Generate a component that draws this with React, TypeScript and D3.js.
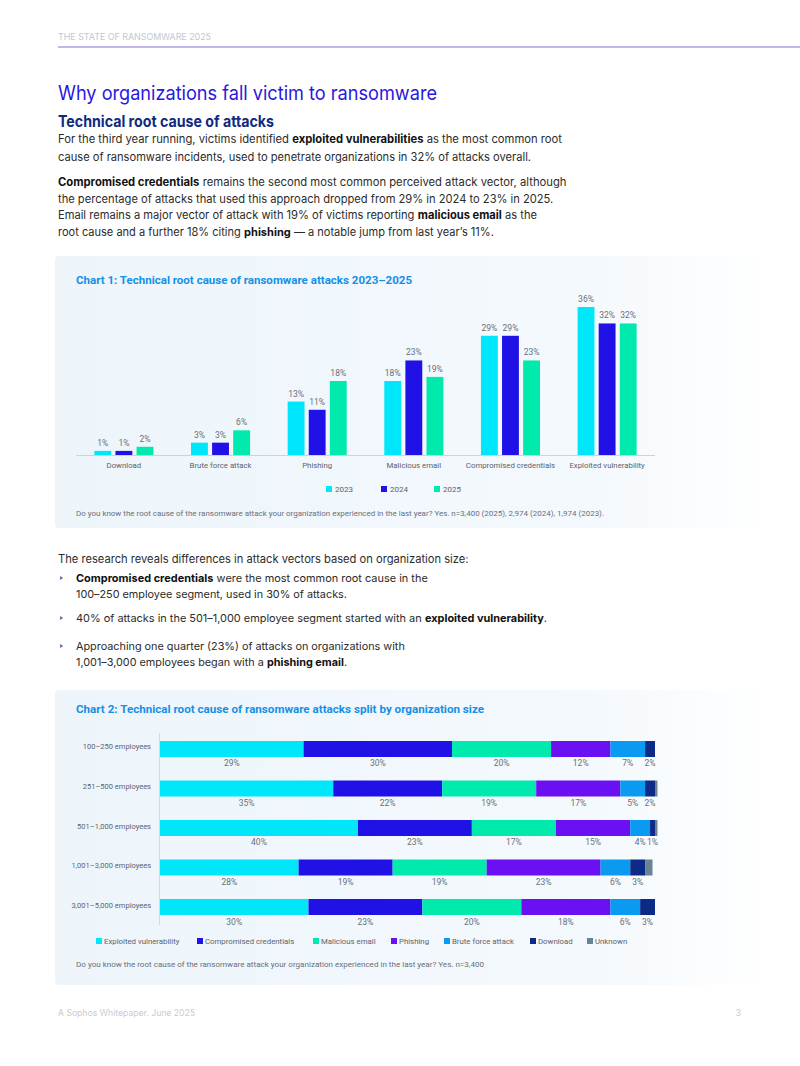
import React from "react";
import * as d3 from "d3";

// ---------- Chart 1 data ----------
const causes1 = ["Download", "Brute force attack", "Phishing", "Malicious email", "Compromised credentials", "Exploited vulnerability"];
const years = ["2023", "2024", "2025"];
const values2023 = [1, 3, 13, 18, 29, 36];
const values2024 = [1, 3, 11, 23, 29, 32];
const values2025 = [2, 6, 18, 19, 23, 32];

// ---------- Chart 2 data ----------
const orgSizes = ["100–250 employees", "251–500 employees", "501–1,000 employees", "1,001–3,000 employees", "3,001–5,000 employees"];
const causes2 = ["Exploited vulnerability", "Compromised credentials", "Malicious email", "Phishing", "Brute force attack", "Download", "Unknown"];
const exploitedVuln = [29, 35, 40, 28, 30];
const compromisedCreds = [30, 22, 23, 19, 23];
const maliciousEmail = [20, 19, 17, 19, 20];
const phishing = [12, 17, 15, 23, 18];
const bruteForce = [7, 5, 4, 6, 6];
const download = [2, 2, 1, 3, 3];
const unknown = [0, 0.5, 0.5, 1.5, 0];

const yearColors = ["#00e6fa", "#2012e6", "#00eaae"];
const causeColors = ["#00e6fa", "#2012e6", "#00eaae", "#6a10f2", "#0a9af2", "#0b2b86", "#6b8494"];

type Seg = [string, boolean];

const BODY_FONT = "Inter, 'Noto Sans', sans-serif";
const CHART_FONT = "Roboto, 'Noto Sans', sans-serif";

let measureCtx: CanvasRenderingContext2D | null = null;
function measure(text: string, bold: boolean, size: number): number {
  if (typeof document === "undefined") return text.length * size * 0.5;
  if (!measureCtx) measureCtx = document.createElement("canvas").getContext("2d");
  if (!measureCtx) return text.length * size * 0.5;
  measureCtx.font = `${bold ? 700 : 400} ${size}px Inter, "Noto Sans", sans-serif`;
  return measureCtx.measureText(text).width;
}

function RichLine({ x, y, segs, width, size = 12.3 }: { x: number; y: number; segs: Seg[]; width: number; size?: number }) {
  const widths = segs.map((s) => measure(s[0], s[1], size));
  const total = widths.reduce((a, b) => a + b, 0);
  const k = total > 0 ? width / total : 1;
  const fs = size * k;
  let cx = x;
  return (
    <g>
      {segs.map((s, i) => {
        const tx = cx;
        cx += widths[i] * k;
        return (
          <text key={i} x={tx} y={y} fontFamily={BODY_FONT} fontSize={fs} fontWeight={s[1] ? 700 : 400} fill={s[1] ? "#111" : "#2b2b2b"} style={{ whiteSpace: "pre" }}>
            {s[0]}
          </text>
        );
      })}
    </g>
  );
}

function Bullet({ x, y }: { x: number; y: number }) {
  return <path d={`M${x},${y - 6} L${x + 3.2},${y - 4} L${x},${y - 2} Z`} fill="#6c6ca8" />;
}

export default function App() {
  // Chart 1 scales
  const x0 = d3.scaleBand().domain(causes1).range([76, 655]).paddingInner(0.389).paddingOuter(0.19);
  const x1 = d3.scaleBand().domain(years).range([0, x0.bandwidth()]).paddingInner(0.2);
  const y1 = d3.scaleLinear().domain([0, 36]).range([455, 307]);
  const series1 = [values2023, values2024, values2025];

  // Chart 2 scales
  const series2 = [exploitedVuln, compromisedCreds, maliciousEmail, phishing, bruteForce, download, unknown];
  const rows = orgSizes.map((s, i) => {
    const r: any = { size: s };
    causes2.forEach((c, j) => (r[c] = series2[j][i]));
    return r;
  });
  const stack = d3.stack<any>().keys(causes2)(rows);
  const xs = d3.scaleLinear().domain([0, 100]).range([160, 655]);
  const ys = d3.scaleBand().domain(orgSizes).range([741, 915]).paddingInner(0.595).paddingOuter(0);

  const legend2X = [96, 197, 313, 391, 444, 530, 587];
  const legend1X = [326, 381, 434];

  return (
    <svg width={800} height={1066} style={{ position: "absolute", left: 0, top: 0, background: "#fff" }}>
      <defs>
        <linearGradient id="panelGrad" x1="0" x2="1" y1="0" y2="0">
          <stop offset="0" stopColor="#edf5fb" />
          <stop offset="0.75" stopColor="#f4f9fd" />
          <stop offset="1" stopColor="#ffffff" />
        </linearGradient>
      </defs>

      {/* Header */}
      <text x={58} y={40} fontFamily={BODY_FONT} fontSize={8.5} fill="#c3c7d0" textLength={153} lengthAdjust="spacingAndGlyphs">THE STATE OF RANSOMWARE 2025</text>
      <line x1={58} x2={800} y1={47} y2={47} stroke="#ad9fe3" strokeWidth={1.5} />

      {/* Titles */}
      <text x={58} y={100} fontFamily={BODY_FONT} fontSize={20} fill="#2a18e0" textLength={379} lengthAdjust="spacingAndGlyphs">Why organizations fall victim to ransomware</text>
      <text x={58} y={127} fontFamily={BODY_FONT} fontSize={15.5} fontWeight={700} fill="#0f2a7e" textLength={216} lengthAdjust="spacingAndGlyphs">Technical root cause of attacks</text>

      <RichLine x={58} y={143} width={504} segs={[["For the third year running, victims identified ", false], ["exploited vulnerabilities", true], [" as the most common root", false]]} />
      <RichLine x={58} y={161} width={473} segs={[["cause of ransomware incidents, used to penetrate organizations in 32% of attacks overall.", false]]} />
      <RichLine x={58} y={186} width={509} segs={[["Compromised credentials", true], [" remains the second most common perceived attack vector, although", false]]} />
      <RichLine x={58} y={203} width={496} segs={[["the percentage of attacks that used this approach dropped from 29% in 2024 to 23% in 2025.", false]]} />
      <RichLine x={58} y={219} width={479} segs={[["Email remains a major vector of attack with 19% of victims reporting ", false], ["malicious email", true], [" as the", false]]} />
      <RichLine x={58} y={236} width={436} segs={[["root cause and a further 18% citing ", false], ["phishing", true], [" — a notable jump from last year’s 11%.", false]]} />

      {/* Chart 1 panel */}
      <rect x={55} y={256} width={715} height={272} rx={4} fill="url(#panelGrad)" />
      <text x={76} y={284} fontFamily={CHART_FONT} fontSize={11.5} fontWeight={700} fill="#1590e6" textLength={336} lengthAdjust="spacingAndGlyphs">Chart 1: Technical root cause of ransomware attacks 2023–2025</text>

      {causes1.map((c, gi) => (
        <g key={c} transform={`translate(${x0(c)},0)`}>
          {years.map((yr, yi) => {
            const v = series1[yi][gi];
            const bx = x1(yr)!;
            return (
              <g key={yr}>
                <rect x={bx} y={y1(v)} width={x1.bandwidth()} height={y1(0) - y1(v)} fill={yearColors[yi]} />
                <text x={bx + x1.bandwidth() / 2} y={y1(v) - 5} textAnchor="middle" fontFamily={CHART_FONT} fontSize={8.5} fill="#6a6f78">{v}%</text>
              </g>
            );
          })}
          <text x={x0.bandwidth() / 2} y={468} textAnchor="middle" fontFamily={CHART_FONT} fontSize={7.8} fill="#5d626b">{c}</text>
        </g>
      ))}
      <line x1={76} x2={655} y1={455.5} y2={455.5} stroke="#ccd3dc" strokeWidth={1} />

      {years.map((yr, i) => (
        <g key={yr}>
          <rect x={legend1X[i]} y={486} width={6} height={6} fill={yearColors[i]} />
          <text x={legend1X[i] + 9} y={492} fontFamily={CHART_FONT} fontSize={8} fill="#5d626b">{yr}</text>
        </g>
      ))}
      <text x={76} y={516} fontFamily={CHART_FONT} fontSize={7.5} fill="#6a6f78" textLength={528} lengthAdjust="spacingAndGlyphs">Do you know the root cause of the ransomware attack your organization experienced in the last year? Yes. n=3,400 (2025), 2,974 (2024), 1,974 (2023).</text>

      {/* Middle text */}
      <RichLine x={58} y={563} width={411} segs={[["The research reveals differences in attack vectors based on organization size:", false]]} />
      <Bullet x={60} y={582} />
      <RichLine x={76} y={582} width={352} segs={[["Compromised credentials", true], [" were the most common root cause in the", false]]} />
      <RichLine x={76} y={598} width={271} segs={[["100–250 employee segment, used in 30% of attacks.", false]]} />
      <Bullet x={60} y={622} />
      <RichLine x={76} y={622} width={471} segs={[["40% of attacks in the 501–1,000 employee segment started with an ", false], ["exploited vulnerability", true], [".", false]]} />
      <Bullet x={60} y={650} />
      <RichLine x={76} y={650} width={329} segs={[["Approaching one quarter (23%) of attacks on organizations with", false]]} />
      <RichLine x={76} y={666} width={271} segs={[["1,001–3,000 employees began with a ", false], ["phishing email", true], [".", false]]} />

      {/* Chart 2 panel */}
      <rect x={55} y={690} width={715} height={295} rx={4} fill="url(#panelGrad)" />
      <text x={76} y={713} fontFamily={CHART_FONT} fontSize={11.5} fontWeight={700} fill="#1590e6" textLength={408} lengthAdjust="spacingAndGlyphs">Chart 2: Technical root cause of ransomware attacks split by organization size</text>

      {stack.map((layer, li) => (
        <g key={layer.key}>
          {layer.map((d, ri) => {
            const size = orgSizes[ri];
            const val = series2[li][ri];
            if (val <= 0) return null;
            const bx = xs(d[0]);
            const bw = xs(d[1]) - xs(d[0]);
            const by = ys(size)!;
            return (
              <g key={size}>
                <rect x={bx} y={by} width={bw} height={ys.bandwidth()} fill={causeColors[li]} />
                {layer.key !== "Unknown" && (
                  <text x={bx + bw / 2} y={by + ys.bandwidth() + 9.5} textAnchor="middle" fontFamily={CHART_FONT} fontSize={8.5} fill="#6a6f78">{val}%</text>
                )}
              </g>
            );
          })}
        </g>
      ))}
      <line x1={159.5} x2={159.5} y1={733} y2={925} stroke="#d3d9e1" strokeWidth={1} />
      {orgSizes.map((s) => (
        <text key={s} x={151} y={ys(s)! + ys.bandwidth() / 2 + 0.5} textAnchor="end" fontFamily={CHART_FONT} fontSize={7.5} fill="#5d626b">{s}</text>
      ))}

      {causes2.map((c, i) => (
        <g key={c}>
          <rect x={legend2X[i]} y={938} width={6} height={6} fill={causeColors[i]} />
          <text x={legend2X[i] + 8} y={944} fontFamily={CHART_FONT} fontSize={7.8} fill="#5d626b">{c}</text>
        </g>
      ))}
      <text x={76} y={967} fontFamily={CHART_FONT} fontSize={7.5} fill="#6a6f78" textLength={408} lengthAdjust="spacingAndGlyphs">Do you know the root cause of the ransomware attack your organization experienced in the last year? Yes. n=3,400</text>

      {/* Footer */}
      <text x={58} y={1016} fontFamily={BODY_FONT} fontSize={8.5} fill="#c7ccd4" textLength={137} lengthAdjust="spacingAndGlyphs">A Sophos Whitepaper. June 2025</text>
      <text x={741} y={1016} textAnchor="end" fontFamily={BODY_FONT} fontSize={9} fill="#c7ccd4">3</text>
    </svg>
  );
}
